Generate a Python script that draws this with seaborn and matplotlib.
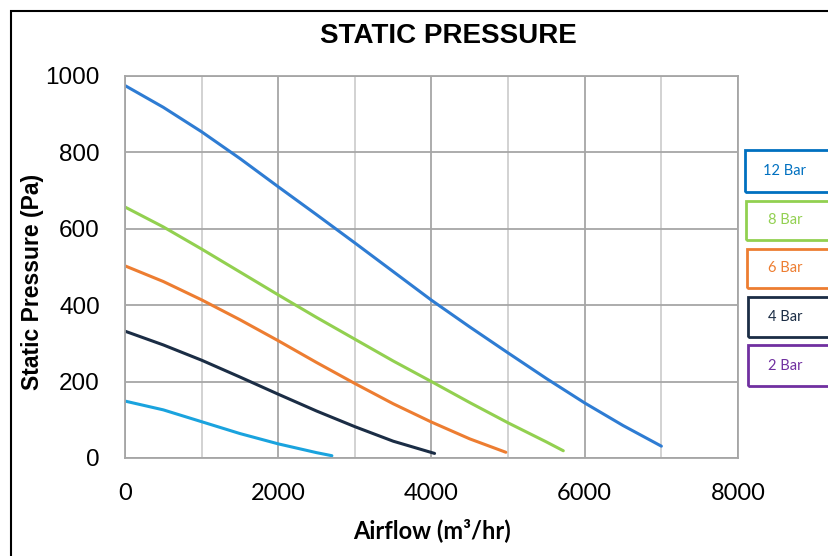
import matplotlib
matplotlib.use("Agg")
import matplotlib.pyplot as plt
from matplotlib.patches import Rectangle
import seaborn as sns
import pandas as pd

# ---- data ----
series_names = ["12 Bar", "8 Bar", "6 Bar", "4 Bar", "2 Bar"]

airflow_12 = [0, 500, 1000, 1500, 2000, 2500, 3000, 3500, 4000, 4500, 5000, 5500, 6000, 6500, 7000]
pressure_12 = [975, 918, 854, 784, 710, 637, 563, 488, 413, 343, 275, 208, 144, 85, 31]

airflow_8 = [0, 500, 1000, 1500, 2000, 2500, 3000, 3500, 4000, 4500, 5000, 5500, 5720]
pressure_8 = [657, 605, 547, 487, 427, 368, 311, 254, 200, 145, 92, 42, 19]

airflow_6 = [0, 500, 1000, 1500, 2000, 2500, 3000, 3500, 4000, 4500, 4970]
pressure_6 = [503, 462, 414, 362, 307, 250, 195, 142, 94, 50, 15]

airflow_4 = [0, 500, 1000, 1500, 2000, 2500, 3000, 3500, 4040]
pressure_4 = [332, 296, 256, 212, 167, 123, 82, 44, 12]

airflow_2 = [0, 500, 1000, 1500, 2000, 2500, 2700]
pressure_2 = [149, 126, 95, 64, 37, 14, 6]

x_ticks = [0, 2000, 4000, 6000, 8000]
y_ticks = [0, 200, 400, 600, 800, 1000]

line_colors = {"12 Bar": "#2E7CD3", "8 Bar": "#92D050", "6 Bar": "#ED7D31",
               "4 Bar": "#1B2D45", "2 Bar": "#1AA3DE"}
legend_colors = {"12 Bar": "#0070C0", "8 Bar": "#92D050", "6 Bar": "#ED7D31",
                 "4 Bar": "#1B2D45", "2 Bar": "#7030A0"}

frames = []
for name, xs, ys in zip(series_names,
                        [airflow_12, airflow_8, airflow_6, airflow_4, airflow_2],
                        [pressure_12, pressure_8, pressure_6, pressure_4, pressure_2]):
    frames.append(pd.DataFrame({"Airflow": xs, "Pressure": ys, "Series": name}))
df = pd.concat(frames, ignore_index=True)

sns.set_theme(style="white")
plt.rcParams["font.family"] = ["Liberation Sans", "DejaVu Sans"]
plt.rcParams["text.color"] = "black"

W, H = 829, 556
fig = plt.figure(figsize=(W / 100, H / 100), dpi=100)
ax = fig.add_axes([125 / W, 1 - 458 / H, (738 - 125) / W, (458 - 76) / H])

sns.lineplot(data=df, x="Airflow", y="Pressure", hue="Series", palette=line_colors,
             hue_order=series_names, legend=False, linewidth=2.2, ax=ax, sort=False,
             estimator=None)

ax.set_xlim(0, 8000)
ax.set_ylim(0, 1000)
ax.set_xticks(x_ticks)
ax.set_yticks(y_ticks)
ax.set_xticks([1000, 3000, 5000, 7000], minor=True)

ax.grid(which="major", axis="both", color="#A6A6A6", linewidth=1.3)
ax.grid(which="minor", axis="x", color="#CFCFCF", linewidth=1.3)
ax.set_axisbelow(True)
for s in ax.spines.values():
    s.set_color("#A6A6A6")
    s.set_linewidth(1.3)

ax.tick_params(axis="both", which="both", length=0)
ax.tick_params(axis="y", pad=18, labelsize=17.5, labelcolor="black")
ax.tick_params(axis="x", pad=18, labelsize=17, labelcolor="black")
for lab in ax.get_xticklabels():
    lab.set_fontfamily(["Lato", "DejaVu Sans"])

ax.set_xlabel("")
ax.set_ylabel("")

fig.text(432 / W, 1 - 530 / H, "Airflow (m³/hr)", ha="center", va="center",
         fontsize=17, fontweight="bold", color="black", family=["Lato", "DejaVu Sans"])
fig.text(33 / W, 1 - 282 / H, "Static Pressure (Pa)", ha="center", va="center",
         rotation=90, fontsize=16.5, fontweight="bold", color="black")
fig.text(448 / W, 1 - 36 / H, "STATIC PRESSURE", ha="center", va="center",
         fontsize=20, fontweight="bold", color="black")

# outer chart border
fig.patches.append(Rectangle((11 / W, -0.1), 1.2, 1 - 11 / H + 0.1,
                             transform=fig.transFigure, fill=False,
                             edgecolor="black", linewidth=1.5))

# legend boxes
boxes = [(745, 150, 192), (746, 201, 240), (747, 249, 288), (748, 297, 337), (748, 345, 386)]
for name, (x0, y0, y1) in zip(series_names, boxes):
    c = legend_colors[name]
    fig.patches.append(Rectangle((x0 / W, 1 - y1 / H), (W - x0 + 20) / W, (y1 - y0) / H,
                                 transform=fig.transFigure, fill=False,
                                 edgecolor=c, linewidth=2))
    fig.text(785 / W, 1 - ((y0 + y1) / 2) / H, name, ha="center", va="center",
             fontsize=10.5, color=c, family=["Lato", "DejaVu Sans"])

fig.savefig("out.png", dpi=100)
